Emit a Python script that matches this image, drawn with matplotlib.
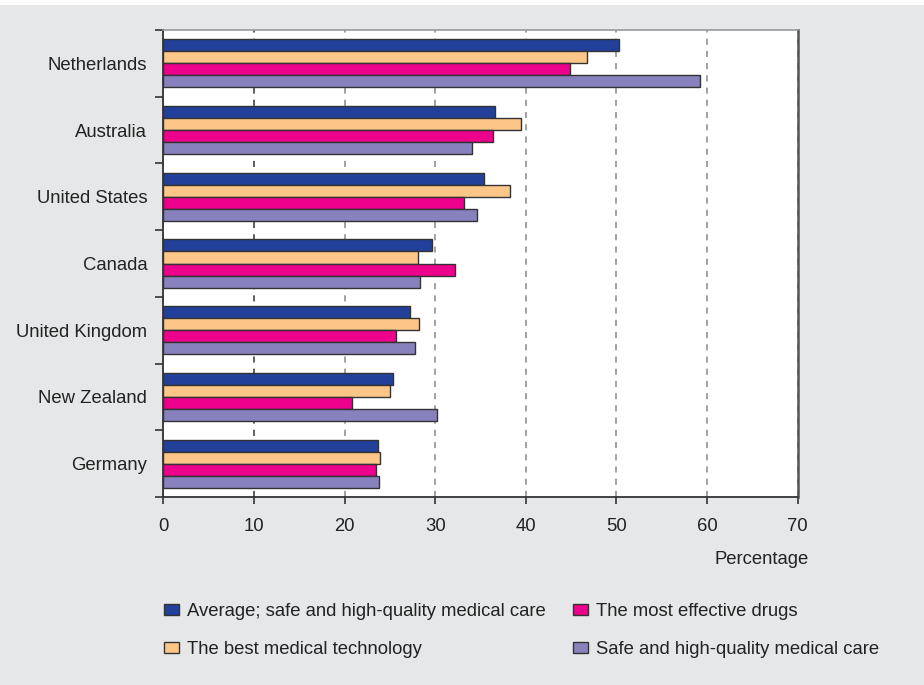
import numpy as np
import matplotlib.pyplot as plt
from matplotlib.patches import Rectangle

plt.rcParams['font.family'] = ['Liberation Sans', 'DejaVu Sans']

countries = ['Netherlands', 'Australia', 'United States', 'Canada',
             'United Kingdom', 'New Zealand', 'Germany']

series_names = ['Average; safe and high-quality medical care',
                'The best medical technology',
                'The most effective drugs',
                'Safe and high-quality medical care']

average = [50.3, 36.6, 35.4, 29.6, 27.2, 25.4, 23.7]
technology = [46.7, 39.5, 38.2, 28.1, 28.2, 25.0, 23.9]
drugs = [44.9, 36.4, 33.2, 32.2, 25.7, 20.8, 23.5]
safe_care = [59.2, 34.1, 34.6, 28.3, 27.8, 30.2, 23.8]

colors = ['#22409a', '#fdc689', '#ec008c', '#8781bd']
xticks = [0, 10, 20, 30, 40, 50, 60, 70]
fs = 13.3

fig = plt.figure(figsize=(9.24, 6.85), dpi=100, facecolor='#e6e7e8')
# thin white strip along the top edge
fig.patches.append(Rectangle((0, 1 - 5 / 685), 1, 5 / 685, transform=fig.transFigure,
                             facecolor='white', edgecolor='none', zorder=-1))

ax = fig.add_axes([163.3 / 924, 1 - 497 / 685, 634.4 / 924, 467 / 685])
ax.set_facecolor('white')

y = np.arange(len(countries))
h = 0.18
all_series = [average, technology, drugs, safe_care]
for k, (vals, c, name) in enumerate(zip(all_series, colors, series_names)):
    ax.barh(y + (k - 1.5) * h, vals, height=h, color=c, edgecolor='#333333',
            linewidth=1.0, label=name, zorder=3)

ax.set_xlim(0, 70)
ax.set_ylim(len(countries) - 0.5, -0.5)
ax.set_xticks(xticks)
ax.set_xticklabels([str(t) for t in xticks], fontsize=fs, color='#222222')
ax.tick_params(axis='x', direction='out', length=5, width=1.2, color='#333333', pad=10)

# country names at group centres, tick marks between groups
ax.set_yticks(y)
ax.set_yticklabels(countries, fontsize=fs, color='#222222')
ax.set_yticks(np.arange(len(countries) + 1) - 0.5, minor=True)
ax.tick_params(axis='y', which='major', length=0, pad=11.5)
ax.tick_params(axis='y', which='minor', direction='out', length=6, width=1.2, color='#333333')

ax.xaxis.grid(True, linestyle=(0, (4, 4)), color='#888888', linewidth=1.1, zorder=1)
ax.get_xgridlines()[1].set_color('#333333')

for s in ['left', 'bottom']:
    ax.spines[s].set_color('#333333')
    ax.spines[s].set_linewidth(1.3)
ax.spines['top'].set_color('#999999')
ax.spines['top'].set_linewidth(1.2)
ax.spines['right'].set_color('#555555')
ax.spines['right'].set_linewidth(1.8)

ax.set_xlabel('Percentage', loc='right', fontsize=fs, color='#222222')
ax.xaxis.set_label_coords((809 - 163.3) / 634.4, -(551 - 497) / 467)

fig.legend(loc='upper left', bbox_to_anchor=(164 / 924, 1 - 603 / 685), ncol=2,
           frameon=False, fontsize=fs, handlelength=0.81, handleheight=0.54,
           handletextpad=0.43, columnspacing=1.46, labelspacing=1.12,
           borderpad=0, borderaxespad=0, labelcolor='#222222')

fig.savefig('out.png', dpi=100, facecolor=fig.get_facecolor())
